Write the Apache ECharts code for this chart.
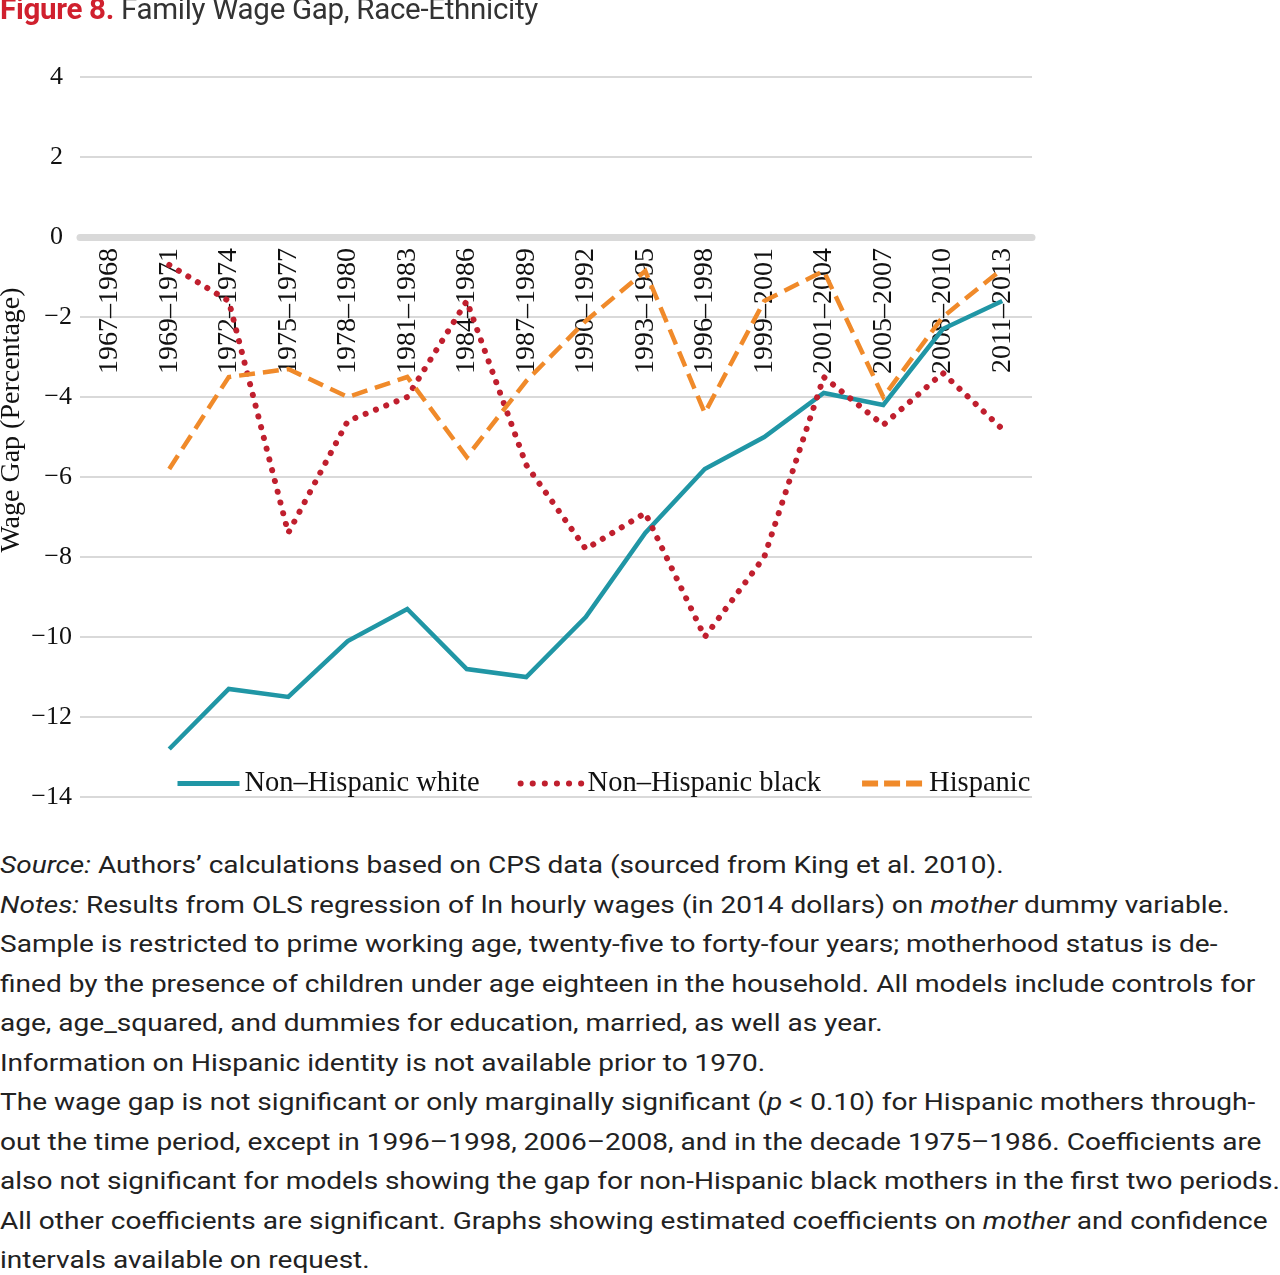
<!DOCTYPE html>
<html>
<head>
<meta charset="utf-8">
<script src="https://cdn.jsdelivr.net/npm/echarts@6/dist/echarts.min.js"></script>
<style>
  html, body { margin: 0; padding: 0; background: #fff; }
  #wrap { position: relative; width: 1280px; height: 1275px; overflow: hidden; }
  #chart { position: absolute; left: 0; top: 0; width: 1280px; height: 840px; }
  #title { position: absolute; left: 0; top: -8px; font-family: Roboto, sans-serif; font-size: 29.5px; color: #333; white-space: nowrap; letter-spacing: -0.3px; }
  #title b { color: #d0202e; font-weight: 700; }
  #notes { position: absolute; left: 0; top: 846px; font-family: Roboto, sans-serif; font-size: 24px; line-height: 39.5px; color: #222; transform: scaleX(1.168); transform-origin: 0 0; }
  #notes div { white-space: nowrap; }
</style>
</head>
<body>
<div id="wrap">
  <div id="chart"></div>
  <div id="title"><b>Figure 8.</b> Family Wage Gap, Race-Ethnicity</div>
  <div id="notes">
    <div><i>Source:</i> Authors’ calculations based on CPS data (sourced from King et al. 2010).</div>
    <div><i>Notes:</i> Results from OLS regression of ln hourly wages (in 2014 dollars) on <i>mother</i> dummy variable.</div>
    <div>Sample is restricted to prime working age, twenty-five to forty-four years; motherhood status is de-</div>
    <div>fined by the presence of children under age eighteen in the household. All models include controls for</div>
    <div>age, age_squared, and dummies for education, married, as well as year.</div>
    <div>Information on Hispanic identity is not available prior to 1970.</div>
    <div>The wage gap is not significant or only marginally significant (<i>p</i> &lt; 0.10) for Hispanic mothers through-</div>
    <div>out the time period, except in 1996–1998, 2006–2008, and in the decade 1975–1986. Coefficients are</div>
    <div>also not significant for models showing the gap for non-Hispanic black mothers in the first two periods.</div>
    <div>All other coefficients are significant. Graphs showing estimated coefficients on <i>mother</i> and confidence</div>
    <div>intervals available on request.</div>
  </div>
</div>
<script>
var categories = ['1967–1968','1969–1971','1972–1974','1975–1977','1978–1980','1981–1983','1984–1986','1987–1989','1990–1992','1993–1995','1996–1998','1999–2001','2001–2004','2005–2007','2008–2010','2011–2013'];
var nonHispanicWhite = [null, -12.8, -11.3, -11.5, -10.1, -9.3, -10.8, -11.0, -9.5, -7.4, -5.8, -5.0, -3.9, -4.2, -2.3, -1.6];
var nonHispanicBlack = [null, -0.7, -1.6, -7.4, -4.6, -4.0, -1.6, -5.7, -7.8, -6.9, -10.0, -8.0, -3.5, -4.7, -3.4, -4.8];
var hispanic = [null, -5.8, -3.5, -3.3, -4.0, -3.5, -5.5, -3.6, -2.1, -0.85, -4.4, -1.6, -0.85, -4.0, -2.0, -0.8];
var yTicks = { min: -14, max: 4, interval: 2 };

var serif = '"Liberation Serif", "Times New Roman", serif';
var chart = echarts.init(document.getElementById('chart'), null, { renderer: 'canvas' });
chart.setOption({
  animation: false,
  grid: { left: 80, right: 248, top: 77, bottom: 43, containLabel: false, outerBoundsMode: 'none' },
  legend: {
    left: 170, top: 764,
    itemWidth: 62, itemHeight: 14, itemGap: 38,
    itemStyle: { opacity: 0 },
    textStyle: { fontFamily: serif, fontSize: 28.5, color: '#111' },
    data: [
      { name: 'Non–Hispanic white', lineStyle: { width: 5, color: '#2096a5' } },
      { name: 'Non–Hispanic black', lineStyle: { width: 6, color: '#c01f2e', type: [0.1, 12], cap: 'round' } },
      { name: 'Hispanic', lineStyle: { width: 6, color: '#f08a2a', type: [16, 6], cap: 'butt' } }
    ]
  },
  xAxis: {
    type: 'category',
    data: categories,
    boundaryGap: true,
    position: 'bottom',
    offset: -560,
    axisLine: { onZero: false, lineStyle: { color: '#d9d9d9', width: 7 } },
    axisTick: { show: false },
    axisLabel: { rotate: 90, margin: 11, interval: 0, fontFamily: serif, fontSize: 28, color: '#111' },
    splitLine: { show: false }
  },
  yAxis: {
    type: 'value',
    min: yTicks.min, max: yTicks.max, interval: yTicks.interval,
    name: 'Wage Gap (Percentage)',
    nameLocation: 'middle',
    nameGap: 54,
    nameMoveOverlap: false,
    nameTextStyle: { fontFamily: serif, fontSize: 28, color: '#111', padding: [0, 0, 0, 34] },
    axisLine: { show: false },
    axisTick: { show: false },
    axisLabel: {
      margin: 8, fontFamily: serif, fontSize: 26, color: '#111',
      formatter: function (v) { return v < 0 ? '\u2212' + Math.abs(v) : '{p|' + v + '}'; },
      rich: { p: { fontFamily: serif, fontSize: 26, color: '#111', padding: [0, 9, 0, 0] } }
    },
    splitLine: { lineStyle: { color: '#d9d9d9', width: 2 } }
  },
  series: [
    {
      name: 'Non–Hispanic white', type: 'line', data: nonHispanicWhite,
      symbol: 'none',
      lineStyle: { color: '#2096a5', width: 4.5, cap: 'butt', join: 'miter' },
      itemStyle: { color: '#2096a5' }
    },
    {
      name: 'Non–Hispanic black', type: 'line', data: nonHispanicBlack,
      symbol: 'none',
      lineStyle: { color: '#c01f2e', width: 6, type: [0.1, 11], cap: 'round', join: 'round' },
      itemStyle: { color: '#c01f2e' }
    },
    {
      name: 'Hispanic', type: 'line', data: hispanic,
      symbol: 'none',
      lineStyle: { color: '#f08a2a', width: 4.5, type: [16, 8], cap: 'butt', join: 'miter' },
      itemStyle: { color: '#f08a2a' }
    }
  ]
});
</script>
</body>
</html>
